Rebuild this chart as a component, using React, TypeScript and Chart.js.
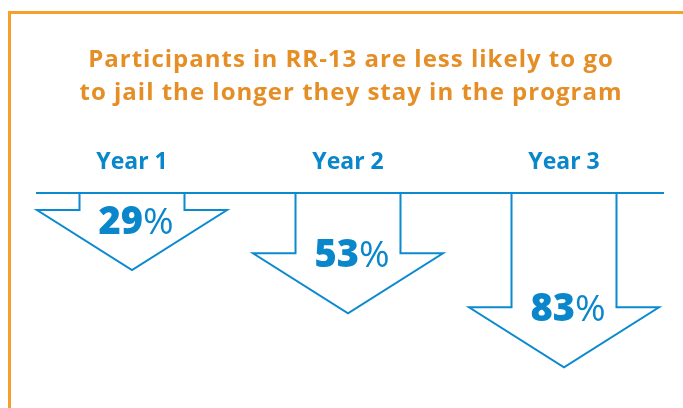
import { useEffect, useRef } from "react";
import { Chart, registerables } from "chart.js";

Chart.register(...registerables);

const TITLE_LINES = [
  "Participants in RR-13 are less likely to go",
  "to jail the longer they stay in the program",
];
const YEARS = ["Year 1", "Year 2", "Year 3"];
const JAIL_REDUCTION = [29, 53, 83];
const AXIS_MIN = -14;
const AXIS_MAX = 100;

const BLUE = "#0B8ACF";
const TEXT_BLUE = "#0A86CB";
const ORANGE = "#F5A02A";
const TITLE_ORANGE = "#E58E26";
const FONT = "'Open Sans', Lato, sans-serif";

const framePlugin = {
  id: "frame",
  beforeDraw(chart: any) {
    const { ctx, width, height } = chart;
    ctx.save();
    ctx.strokeStyle = ORANGE;
    ctx.lineWidth = 3;
    ctx.beginPath();
    ctx.moveTo(9.5, height);
    ctx.lineTo(9.5, 12.5);
    ctx.lineTo(width, 12.5);
    ctx.stroke();

    // title
    ctx.fillStyle = TITLE_ORANGE;
    ctx.font = `bold 24px ${FONT}`;
    (ctx as any).letterSpacing = "1px";
    ctx.textAlign = "center";
    ctx.textBaseline = "alphabetic";
    const cx = (chart.chartArea.left + chart.chartArea.right) / 2 + 3;
    TITLE_LINES.forEach((line, i) => {
      ctx.fillText(line, cx, 67 + i * 33);
    });
    ctx.restore();
  },
};

const arrowPlugin = {
  id: "arrows",
  afterDatasetsDraw(chart: any) {
    const meta = chart.getDatasetMeta(0);
    const yScale = chart.scales.y;
    const base = Math.round(yScale.getPixelForValue(AXIS_MIN));
    const ctx = chart.ctx;
    const headH = 60;
    let lineL = Infinity;
    let lineR = -Infinity;
    ctx.save();
    ctx.strokeStyle = BLUE;
    ctx.lineWidth = 2;
    ctx.lineJoin = "miter";
    meta.data.forEach((bar: any, i: number) => {
      const { x, y, width: w } = bar.getProps(["x", "y", "width"], true);
      const sw = w / 2;
      const hw = (w * 1.81) / 2;
      const headTop = y - headH;
      ctx.beginPath();
      ctx.moveTo(x - sw, base);
      ctx.lineTo(x - sw, headTop);
      ctx.lineTo(x - hw, headTop);
      ctx.lineTo(x, y);
      ctx.lineTo(x + hw, headTop);
      ctx.lineTo(x + sw, headTop);
      ctx.lineTo(x + sw, base);
      ctx.stroke();
      lineL = Math.min(lineL, x - hw);
      lineR = Math.max(lineR, x + hw);

      const num = String(JAIL_REDUCTION[i]);
      const pct = "%";
      ctx.fillStyle = TEXT_BLUE;
      ctx.textBaseline = "alphabetic";
      ctx.textAlign = "left";
      const numFont = `800 38px ${FONT}`;
      const pctFont = `400 37px ${FONT}`;
      ctx.font = numFont;
      const nw = ctx.measureText(num).width;
      ctx.font = pctFont;
      const pw = ctx.measureText(pct).width;
      const startX = x - (nw + pw) / 2 + 4;
      const ty = Math.max(headTop + 14, base + 41);
      ctx.font = numFont;
      ctx.fillText(num, startX, ty);
      ctx.font = pctFont;
      ctx.fillText(pct, startX + nw, ty);
    });
    ctx.beginPath();
    ctx.moveTo(lineL - 1, base);
    ctx.lineTo(lineR + 5, base);
    ctx.stroke();
    ctx.restore();
  },
};

export default function App() {
  const ref = useRef<HTMLCanvasElement>(null);
  useEffect(() => {
    if (!ref.current) return;
    const chart = new Chart(ref.current, {
      type: "bar",
      data: {
        labels: YEARS,
        datasets: [
          {
            data: JAIL_REDUCTION,
            backgroundColor: "rgba(0,0,0,0)",
            borderWidth: 0,
            barPercentage: 0.486,
            categoryPercentage: 1,
          },
        ],
      },
      options: {
        responsive: false,
        animation: false,
        devicePixelRatio: 1,
        layout: { padding: { left: 24, right: 11, top: 133, bottom: 10 } },
        plugins: {
          legend: { display: false },
          tooltip: { enabled: false },
          title: { display: false },
        },
        scales: {
          x: {
            position: "top",
            grid: { display: false, drawTicks: false, tickLength: 0 },
            border: { display: false },
            ticks: {
              color: TEXT_BLUE,
              font: { family: FONT, size: 23, weight: "bold" },
              padding: 16,
              maxRotation: 0,
              autoSkip: false,
            },
          },
          y: { display: false, reverse: true, min: AXIS_MIN, max: AXIS_MAX },
        },
      },
      plugins: [framePlugin, arrowPlugin],
    });
    return () => chart.destroy();
  }, []);
  return (
    <div style={{ position: "absolute", left: 0, top: 0, width: 683, height: 408, background: "#fff" }}>
      <canvas ref={ref} width={683} height={408} style={{ width: 683, height: 408 }} />
    </div>
  );
}
